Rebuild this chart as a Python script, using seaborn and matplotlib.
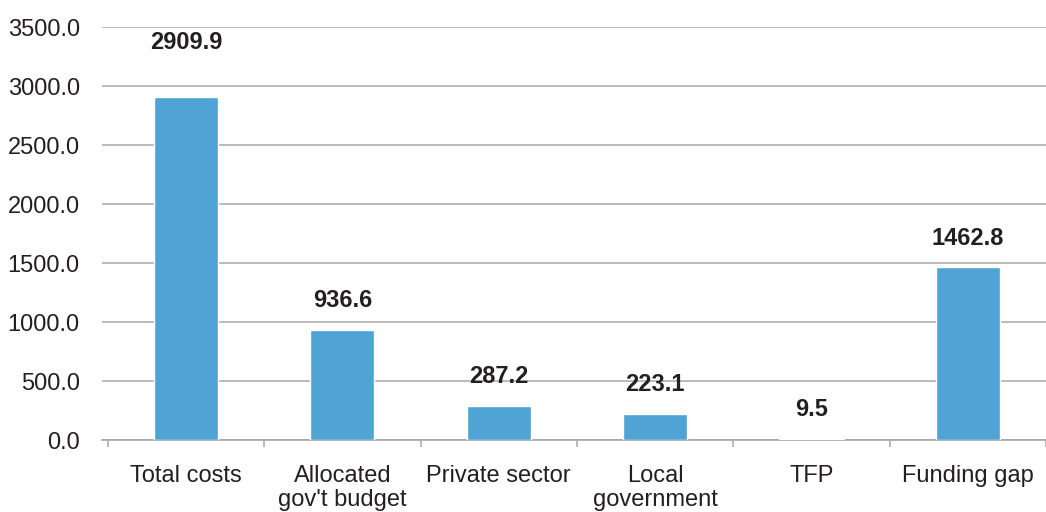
import matplotlib
matplotlib.use("Agg")
import matplotlib.pyplot as plt
import numpy as np
import pandas as pd
import seaborn as sns

# chart values
categories = ["Total costs", "Allocated\ngov't budget", "Private sector",
              "Local\ngovernment", "TFP", "Funding gap"]
amounts = [2909.9, 936.6, 287.2, 223.1, 9.5, 1462.8]
y_ticks = [0, 500, 1000, 1500, 2000, 2500, 3000, 3500]

BAR_COLOR = "#4FA3D5"
TEXT_COLOR = "#231F20"
GRID_COLOR = "#A8A8A8"
FONT_SIZE = 17

sns.set_style("white")
plt.rcParams["font.family"] = ["Liberation Sans", "DejaVu Sans"]

df = pd.DataFrame({"Category": categories, "Amount": amounts})

fig = plt.figure(figsize=(10.46, 5.12), dpi=100)
ax = fig.add_axes([0.0975, 0.1406, 0.9025, 0.947 - 0.1406])

sns.barplot(data=df, x="Category", y="Amount", color=BAR_COLOR,
            width=0.41, saturation=1, ax=ax, zorder=3)

ax.set_ylim(0, 3500)
ax.set_xlim(-0.538, len(categories) - 0.51)
ax.set_yticks(y_ticks)
ax.set_yticklabels([f"{v:.1f}" for v in y_ticks])
ax.yaxis.grid(True, color=GRID_COLOR, linewidth=1.1, zorder=0)
ax.set_axisbelow(True)

# boundary tick marks between categories
ax.set_xticks(np.arange(-0.5, len(categories) + 0.5, 1.0), minor=True)
ax.tick_params(axis="x", which="minor", bottom=True, length=5, width=1.1,
               color=GRID_COLOR, direction="out")
ax.tick_params(axis="x", which="major", length=0, pad=18,
               labelsize=FONT_SIZE, labelcolor=TEXT_COLOR)
ax.tick_params(axis="y", length=0, pad=16, labelsize=FONT_SIZE,
               labelcolor=TEXT_COLOR)
for lbl in ax.get_xticklabels():
    lbl.set_linespacing(1.1)
    lbl.set_verticalalignment("top")

for side in ["top", "right", "left"]:
    ax.spines[side].set_visible(False)
ax.spines["bottom"].set_color(GRID_COLOR)
ax.spines["bottom"].set_linewidth(1.2)

ax.set_xlabel("")
ax.set_ylabel("")

# value labels; the first one sits higher in the original
for i, (patch, val) in enumerate(zip(ax.patches, amounts)):
    lift = 39 if i == 0 else 21
    ax.annotate(f"{val:.1f}",
                (patch.get_x() + patch.get_width() / 2, patch.get_height()),
                xytext=(0, lift), textcoords="offset points",
                ha="center", va="center", fontsize=FONT_SIZE,
                fontweight="bold", color=TEXT_COLOR)

fig.savefig("out.png", dpi=100)
